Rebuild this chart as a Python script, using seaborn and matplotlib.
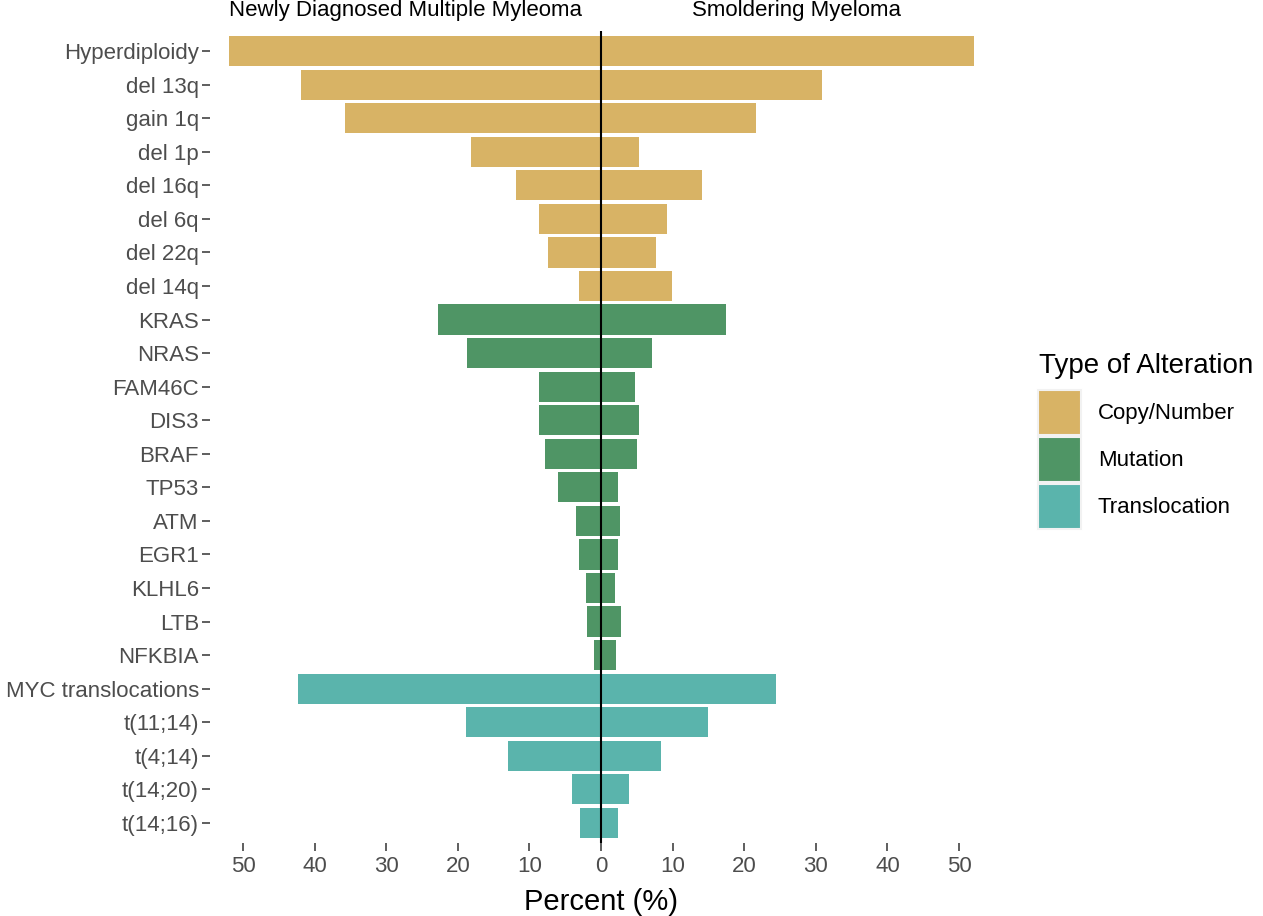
import numpy as np
import pandas as pd
import matplotlib
matplotlib.use("Agg")
import matplotlib.pyplot as plt
from matplotlib.patches import Patch
import seaborn as sns

alterations = ["Hyperdiploidy", "del 13q", "gain 1q", "del 1p", "del 16q", "del 6q",
               "del 22q", "del 14q", "KRAS", "NRAS", "FAM46C", "DIS3", "BRAF", "TP53",
               "ATM", "EGR1", "KLHL6", "LTB", "NFKBIA", "MYC translocations",
               "t(11;14)", "t(4;14)", "t(14;20)", "t(14;16)"]
alt_type = (["Copy/Number"] * 8) + (["Mutation"] * 11) + (["Translocation"] * 5)
ndmm = [52.0, 41.9, 35.7, 18.2, 11.8, 8.6, 7.4, 3.1, 22.7, 18.7, 8.6, 8.6, 7.8, 6.0,
        3.5, 3.1, 2.1, 1.9, 1.0, 42.3, 18.9, 13.0, 4.0, 2.9]
smm = [52.1, 30.9, 21.6, 5.3, 14.1, 9.2, 7.7, 9.9, 17.4, 7.1, 4.7, 5.3, 5.0, 2.4,
       2.6, 2.4, 1.9, 2.8, 2.1, 24.5, 14.9, 8.4, 3.9, 2.4]
type_order = ["Copy/Number", "Mutation", "Translocation"]
colors = {"Copy/Number": "#D8B365", "Mutation": "#4F9565", "Translocation": "#5AB4AC"}

df = pd.DataFrame({"alteration": alterations, "type": alt_type,
                   "ndmm": ndmm, "smm": smm})
df["ndmm_neg"] = -df["ndmm"]

plt.rcParams["font.family"] = ["Liberation Sans", "DejaVu Sans"]

fig = plt.figure(figsize=(12.63, 9.16), dpi=100)
ax = fig.add_axes([210 / 1263, 1 - 843 / 916, (992 - 210) / 1263, (843 - 31) / 916])

# NDMM to the left (negative), SMM to the right
for col in ["ndmm_neg", "smm"]:
    sns.barplot(data=df, x=col, y="alteration", hue="type", hue_order=type_order,
                palette=colors, dodge=False, width=0.9, orient="h", ax=ax,
                legend=False, linewidth=0, saturation=1, order=alterations)

ax.axvline(0, color="black", lw=1.5)
ax.set_xlim(-54.6, 54.6)
ax.set_ylim(len(alterations) - 0.4, -0.6)
ticks = np.arange(-50, 51, 10)
ax.set_xticks(ticks)
ax.set_xticklabels([str(abs(t)) for t in ticks])
for s in ax.spines.values():
    s.set_visible(False)
ax.tick_params(axis="both", labelsize=16, labelcolor="#4D4D4D", color="#333333",
               length=5.5, width=1.1, pad=2.5)
ax.tick_params(axis="x", pad=4)
ax.set_ylabel("")
ax.set_xlabel("Percent (%)", fontsize=21, color="black", labelpad=8)

ax.text(-27.35, -1.2, "Newly Diagnosed Multiple Myleoma", ha="center", va="center",
        fontsize=16, color="black", clip_on=False)
ax.text(27.35, -1.2, "Smoldering Myeloma", ha="center", va="center",
        fontsize=16, color="black", clip_on=False)

# legend title drawn separately so the gap to the keys matches
fig.text(1039 / 1263, 1 - 366 / 916, "Type of Alteration", fontsize=20,
         ha="left", va="center", color="black")
handles = [Patch(facecolor=colors[t], edgecolor="#F2F2F2", linewidth=1.5, label=t)
           for t in type_order]
fig.legend(handles=handles, loc="upper left",
           bbox_to_anchor=(1018 / 1263, 1 - 370 / 916), frameon=False, fontsize=16,
           handlelength=1.95, handleheight=2.75, labelspacing=0.08,
           handletextpad=0.75)

fig.savefig("out.png", dpi=100)
